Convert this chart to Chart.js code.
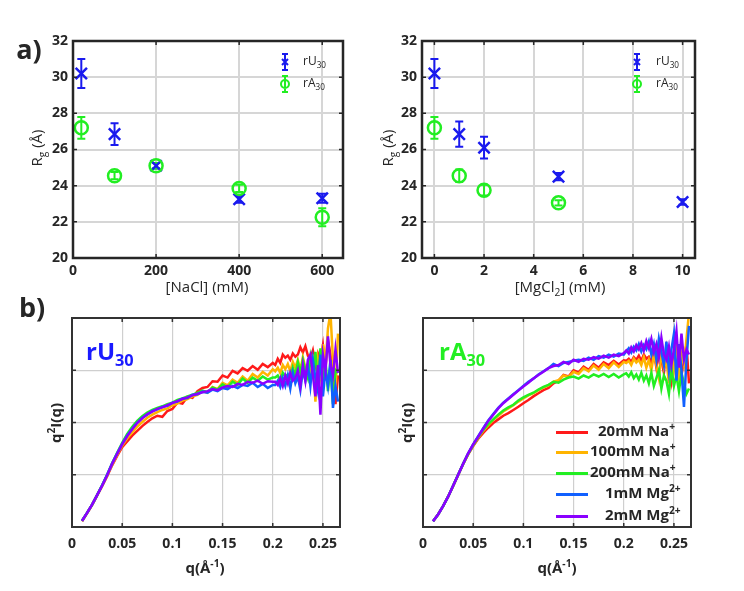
<!DOCTYPE html>
<html>
<head>
<meta charset="utf-8">
<script src="https://cdn.jsdelivr.net/npm/chart.js@4.4.1/dist/chart.umd.min.js"></script>
<style>
body { margin: 0; background: #fff; }
#fig { position: relative; width: 744px; height: 591px; overflow: hidden; font-family: 'Open Sans', sans-serif; color: #262626; }
.panel { position: absolute; }
.t { position: absolute; white-space: nowrap; line-height: 1; transform: translate(-50%, -50%); }
.l { position: absolute; white-space: nowrap; line-height: 1; }
.rot { transform: translate(-50%, -50%) rotate(-90deg); }
sub, sup { font-size: 68%; line-height: 0; }
.key { position: absolute; width: 32px; height: 3px; }
</style>
</head>
<body>
<div id="fig">
  <div class="panel" style="left:0;top:0;width:372px;height:300px"><canvas id="chart1"></canvas></div>
  <div class="panel" style="left:372px;top:0;width:372px;height:300px"><canvas id="chart2"></canvas></div>
  <div class="panel" style="left:0;top:300px;width:372px;height:291px"><canvas id="chart3"></canvas></div>
  <div class="panel" style="left:372px;top:300px;width:372px;height:291px"><canvas id="chart4"></canvas></div>

  <div class="t" style="left:29px;top:48px;font-size:27px;font-weight:bold">a)</div>
  <div class="t" style="left:32px;top:306px;font-size:27px;font-weight:bold">b)</div>

  <div class="t rot" style="left:36px;top:148px;font-size:15px">R<sub>g</sub> (Å)</div>
  <div class="t rot" style="left:387px;top:148px;font-size:15px">R<sub>g</sub> (Å)</div>
  <div class="t" style="left:207px;top:286px;font-size:15px">[NaCl] (mM)</div>
  <div class="t" style="left:560px;top:286px;font-size:15px">[MgCl<sub>2</sub>] (mM)</div>

  <div class="l" style="left:303px;top:55px;font-size:12px">rU<sub>30</sub></div>
  <div class="l" style="left:303px;top:77px;font-size:12px">rA<sub>30</sub></div>
  <div class="l" style="left:656px;top:55px;font-size:12px">rU<sub>30</sub></div>
  <div class="l" style="left:656px;top:77px;font-size:12px">rA<sub>30</sub></div>

  <div class="t rot" style="left:55px;top:423px;font-size:15px;font-weight:bold">q<sup>2</sup>I(q)</div>
  <div class="t rot" style="left:406px;top:423px;font-size:15px;font-weight:bold">q<sup>2</sup>I(q)</div>
  <div class="t" style="left:205px;top:567px;font-size:15px;font-weight:bold">q(Å<sup>-1</sup>)</div>
  <div class="t" style="left:557px;top:567px;font-size:15px;font-weight:bold">q(Å<sup>-1</sup>)</div>

  <div class="l" style="left:86px;top:339px;font-size:24px;font-weight:bold;color:#1a1aff">rU<sub>30</sub></div>
  <div class="l" style="left:439px;top:339px;font-size:24px;font-weight:bold;color:#22ee22">rA<sub>30</sub></div>

  <div id="keys"></div>
</div>
<script>
// a) radius of gyration
const naclConc = [20, 100, 200, 400, 600];
const naclU = [30.2, 26.85, 25.1, 23.25, 23.3];
const naclUErr = [0.8, 0.6, 0.15, 0.2, 0.25];
const naclA = [27.2, 24.55, 25.1, 23.85, 22.25];
const naclAErr = [0.6, 0.2, 0.15, 0.2, 0.5];

const mgConc = [0, 1, 2, 5, 10];
const mgU = [30.2, 26.85, 26.1, 24.5, 23.1];
const mgUErr = [0.8, 0.7, 0.6, 0.2, 0.15];
const mgConcA = [0, 1, 2, 5];
const mgA = [27.2, 24.55, 23.75, 23.05];
const mgAErr = [0.6, 0.35, 0.3, 0.15];

const naclTicks = [0, 200, 400, 600];
const mgTicks = [0, 2, 4, 6, 8, 10];
const rgTicks = [20, 22, 24, 26, 28, 30, 32];

// b) Kratky curves
const qValues = [
  0.010, 0.015, 0.020, 0.025, 0.030, 0.035, 0.040, 0.045, 0.050, 0.055,
  0.060, 0.065, 0.070, 0.075, 0.080, 0.085, 0.090, 0.095, 0.100, 0.105,
  0.110, 0.115, 0.120, 0.125, 0.130, 0.135, 0.140, 0.145, 0.150, 0.155,
  0.160, 0.165, 0.170, 0.175, 0.180, 0.185, 0.190, 0.195, 0.200,
  0.2025, 0.205, 0.2075, 0.210, 0.2125, 0.215, 0.2175, 0.220, 0.2225, 0.225,
  0.2275, 0.230, 0.2325, 0.235, 0.2375, 0.240, 0.2425, 0.245, 0.2475, 0.250,
  0.2525, 0.255, 0.2575, 0.260, 0.2625, 0.265
];
const qTicks = [0, 0.05, 0.1, 0.15, 0.2, 0.25];
const kratkyTicks = [0, 1, 2, 3, 4];
const seriesLabels = ["20mM Na<sup>+</sup>", "100mM Na<sup>+</sup>", "200mM Na<sup>+</sup>", "1mM Mg<sup>2+</sup>", "2mM Mg<sup>2+</sup>"];
const seriesColors = ["#ff1a1a", "#ffb400", "#22ee22", "#1060ff", "#8a00ff"];

const rU_20Na = [0.11,0.26,0.42,0.60,0.78,0.97,1.18,1.36,1.53,1.64, 1.75,1.84,1.93,2.01,2.08,2.13,2.11,2.22,2.26,2.38,
  2.36,2.49,2.47,2.60,2.66,2.68,2.79,2.78,2.90,2.86, 2.99,2.94,3.04,2.99,3.08,3.01,3.12,3.06,3.14,
  3.10,3.22,3.14,3.30,3.24,3.28,3.20,3.32,3.26,3.30, 3.44,3.34,3.46,3.28,3.22,3.38,3.10,3.32,3.18,3.48, 3.02,3.58,3.30,2.90,2.35,2.90];
const rU_100Na = [0.12,0.27,0.43,0.61,0.79,0.98,1.20,1.38,1.56,1.70, 1.81,1.92,2.01,2.09,2.15,2.20,2.24,2.27,2.33,2.36,
  2.42,2.45,2.50,2.53,2.60,2.57,2.68,2.64,2.76,2.71, 2.82,2.76,2.88,2.80,2.93,2.86,2.97,2.90,3.02,
  2.98,3.05,2.95,3.10,3.02,3.12,2.98,3.16,3.05,3.20, 3.00,3.25,3.05,3.10,2.85,3.30,2.40,3.20,2.90,3.50, 3.10,3.80,4.10,3.20,2.60,3.70];
const rU_200Na = [0.12,0.27,0.43,0.61,0.80,1.00,1.22,1.42,1.61,1.78, 1.92,2.03,2.12,2.19,2.24,2.28,2.31,2.35,2.38,2.43,
  2.46,2.50,2.53,2.57,2.61,2.58,2.67,2.63,2.73,2.67, 2.78,2.72,2.84,2.76,2.86,2.80,2.88,2.82,2.86,
  2.86,2.90,2.80,2.95,2.88,2.92,2.85,3.05,2.90,3.15, 2.95,3.20,3.00,2.85,3.25,2.95,3.35,2.70,3.42,2.80, 3.20,2.60,3.10,2.35,3.00,2.95];
const rU_1Mg = [0.12,0.27,0.43,0.61,0.80,1.00,1.22,1.41,1.59,1.75, 1.88,2.00,2.09,2.15,2.22,2.25,2.30,2.32,2.38,2.40,
  2.46,2.47,2.53,2.54,2.59,2.57,2.63,2.60,2.66,2.64, 2.70,2.66,2.72,2.70,2.76,2.68,2.74,2.66,2.72,
  2.72,2.80,2.68,2.85,2.70,2.90,2.65,2.95,2.75,2.88, 2.62,3.00,2.80,3.10,2.70,3.20,2.85,2.60,3.30,2.50, 3.00,2.70,3.20,2.28,2.70,2.40];
const rU_2Mg = [0.12,0.27,0.43,0.61,0.79,0.99,1.21,1.40,1.58,1.74, 1.87,1.99,2.08,2.16,2.21,2.26,2.29,2.33,2.37,2.41,
  2.45,2.48,2.52,2.55,2.58,2.60,2.64,2.62,2.67,2.70, 2.68,2.74,2.72,2.78,2.76,2.80,2.74,2.79,2.78,
  2.78,2.72,2.85,2.70,2.90,2.75,2.95,2.80,2.85,3.00, 2.70,3.10,2.80,3.20,3.30,2.90,2.50,3.10,2.15,3.30, 3.00,3.65,3.10,2.90,3.40,2.95];

const rA_20Na = [0.11,0.24,0.40,0.58,0.78,0.99,1.20,1.39,1.55,1.69, 1.80,1.90,1.99,2.06,2.13,2.18,2.24,2.30,2.37,2.43,
  2.50,2.56,2.62,2.66,2.75,2.80,2.91,2.88,3.00,2.96, 3.07,3.01,3.12,3.05,3.15,3.10,3.18,3.11,3.19,
  3.18,3.22,3.16,3.25,3.20,3.28,3.18,3.30,3.22,3.26, 3.15,3.35,3.05,3.30,3.20,2.95,3.40,3.10,2.80,3.30, 3.00,3.45,2.90,3.20,3.50,2.75];
const rA_100Na = [0.11,0.24,0.40,0.58,0.79,1.00,1.21,1.40,1.56,1.71, 1.84,1.95,2.05,2.13,2.21,2.27,2.33,2.40,2.46,2.52,
  2.56,2.62,2.67,2.71,2.78,2.81,2.90,2.87,2.97,2.93, 3.04,2.98,3.09,3.01,3.12,3.04,3.15,3.06,3.16,
  3.14,3.18,3.10,3.22,3.15,3.20,3.10,3.25,3.05,3.20, 3.00,3.30,3.10,2.85,3.35,3.05,3.20,2.75,3.30,3.00, 3.40,2.90,3.30,3.10,3.60,4.10];
const rA_200Na = [0.11,0.24,0.40,0.58,0.79,1.00,1.21,1.40,1.57,1.72, 1.86,1.97,2.06,2.15,2.23,2.29,2.34,2.42,2.48,2.53,
  2.57,2.63,2.68,2.72,2.78,2.76,2.82,2.86,2.88,2.84, 2.90,2.86,2.92,2.88,2.93,2.87,2.93,2.86,2.92,
  2.94,2.88,2.96,2.85,2.92,2.82,2.95,2.80,2.90,2.75, 2.95,2.70,2.85,3.00,2.65,2.90,2.80,2.55,3.05,2.70, 2.90,2.60,2.95,2.75,2.55,2.65];
const rA_1Mg = [0.11,0.24,0.40,0.58,0.79,1.00,1.21,1.41,1.58,1.74, 1.89,2.04,2.16,2.28,2.38,2.46,2.54,2.62,2.70,2.78,
  2.84,2.92,2.98,3.04,3.12,3.08,3.14,3.16,3.18,3.20, 3.18,3.24,3.20,3.27,3.24,3.30,3.26,3.32,3.30,
  3.36,3.42,3.34,3.45,3.38,3.50,3.36,3.48,3.40,3.55, 3.30,3.50,3.20,3.60,3.35,3.10,3.55,3.00,3.40,3.70, 2.80,3.50,3.00,2.30,3.20,3.85];
const rA_2Mg = [0.11,0.24,0.40,0.58,0.79,1.00,1.21,1.41,1.58,1.73, 1.88,2.03,2.15,2.27,2.37,2.45,2.53,2.61,2.69,2.76,
  2.84,2.91,2.97,3.04,3.08,3.10,3.16,3.12,3.20,3.16, 3.22,3.20,3.25,3.22,3.28,3.24,3.30,3.27,3.33,
  3.38,3.32,3.44,3.36,3.48,3.40,3.52,3.38,3.56,3.42, 3.60,3.35,3.50,3.25,3.62,3.30,3.20,3.45,3.10,3.40, 3.75,3.05,3.70,3.20,3.40,3.30];

const blue = "#1a1aee";
const green = "#22ee22";
const ink = "#262626";

Chart.defaults.font.family = "'Open Sans', sans-serif";
Chart.defaults.font.size = 14;
Chart.defaults.font.weight = "bold";
Chart.defaults.color = ink;

// box with inward ticks, error bars and the small legend icons of panel a
const framePlugin = {
  id: "frame",
  beforeDatasetsDraw(chart) {
    const { ctx, scales: { x, y } } = chart;
    ctx.save();
    chart.data.datasets.forEach((ds) => {
      if (!ds.errors) return;
      ctx.strokeStyle = ds.borderColor;
      ctx.lineWidth = 2;
      ctx.beginPath();
      ds.data.forEach((p, j) => {
        const px = x.getPixelForValue(p.x);
        const y1 = y.getPixelForValue(p.y - ds.errors[j]);
        const y2 = y.getPixelForValue(p.y + ds.errors[j]);
        ctx.moveTo(px, y1); ctx.lineTo(px, y2);
        ctx.moveTo(px - 4, y1); ctx.lineTo(px + 4, y1);
        ctx.moveTo(px - 4, y2); ctx.lineTo(px + 4, y2);
      });
      ctx.stroke();
    });
    ctx.restore();
  },
  afterDatasetsDraw(chart, args, opts) {
    const { ctx, chartArea: a, scales: { x, y } } = chart;
    ctx.save();
    ctx.strokeStyle = opts.color;
    ctx.lineWidth = opts.width;
    ctx.strokeRect(a.left, a.top, a.right - a.left, a.bottom - a.top);
    ctx.lineWidth = 1.5;
    ctx.beginPath();
    x.ticks.forEach((t) => {
      const p = x.getPixelForValue(t.value);
      ctx.moveTo(p, a.bottom); ctx.lineTo(p, a.bottom - 4);
      ctx.moveTo(p, a.top); ctx.lineTo(p, a.top + 4);
    });
    y.ticks.forEach((t) => {
      const p = y.getPixelForValue(t.value);
      ctx.moveTo(a.left, p); ctx.lineTo(a.left + 4, p);
      ctx.moveTo(a.right, p); ctx.lineTo(a.right - 4, p);
    });
    ctx.stroke();
    (opts.icons || []).forEach((ic) => {
      const cx = a.right - ic.dx, cy = a.top + ic.dy;
      ctx.strokeStyle = ic.color;
      ctx.lineWidth = 2;
      ctx.beginPath();
      ctx.moveTo(cx, cy - 8); ctx.lineTo(cx, cy + 8);
      ctx.moveTo(cx - 3, cy - 8); ctx.lineTo(cx + 3, cy - 8);
      ctx.moveTo(cx - 3, cy + 8); ctx.lineTo(cx + 3, cy + 8);
      if (ic.style === "cross") {
        ctx.moveTo(cx - 3, cy - 3); ctx.lineTo(cx + 3, cy + 3);
        ctx.moveTo(cx - 3, cy + 3); ctx.lineTo(cx + 3, cy - 3);
      } else {
        ctx.moveTo(cx + 4, cy); ctx.arc(cx, cy, 4, 0, Math.PI * 2);
      }
      ctx.stroke();
    });
    ctx.restore();
  },
};

function axis(min, max, tickValues, size, pad, grid, showLabels) {
  return {
    type: "linear",
    min: min,
    max: max,
    afterBuildTicks: (s) => { s.ticks = tickValues.map((v) => ({ value: v })); },
    grid: { color: grid.color, lineWidth: grid.width, drawTicks: false },
    border: { display: false },
    ticks: { display: showLabels, padding: pad, autoSkip: false, maxRotation: 0, callback: (v) => String(v) },
    afterFit: size,
  };
}

function rgChart(id, xs, xsA, u, uErr, aVals, aErr, xMin, xMax, xTicks, geom) {
  const topGrid = { color: "#d6d6d6", width: 2 };
  return new Chart(document.getElementById(id), {
    type: "scatter",
    data: {
      datasets: [
        {
          label: "rU30",
          data: xs.map((c, i) => ({ x: c, y: u[i] })),
          errors: uErr,
          pointStyle: "crossRot",
          pointRadius: 8,
          borderColor: blue,
          backgroundColor: blue,
          borderWidth: 2.5,
          order: 1,
        },
        {
          label: "rA30",
          data: xsA.map((c, i) => ({ x: c, y: aVals[i] })),
          errors: aErr,
          pointStyle: "circle",
          pointRadius: 6.5,
          borderColor: green,
          backgroundColor: "rgba(0,0,0,0)",
          borderWidth: 2.5,
          order: 0,
        },
      ],
    },
    plugins: [framePlugin],
    options: {
      animation: false,
      responsive: true,
      maintainAspectRatio: false,
      layout: { padding: { top: 41, right: geom.right, left: 0, bottom: 0 } },
      plugins: {
        legend: { display: false },
        tooltip: { enabled: false },
        frame: {
          color: ink,
          width: 2.5,
          icons: [
            { dx: 58, dy: 21, color: blue, style: "cross" },
            { dx: 58, dy: 43, color: green, style: "circle" },
          ],
        },
      },
      scales: {
        x: axis(xMin, xMax, xTicks, (s) => { s.height = 42; }, 5, topGrid, true),
        y: axis(20, 32, rgTicks, (s) => { s.width = geom.left; }, 5, topGrid, true),
      },
    },
  });
}

function kratkyChart(id, sets, geom) {
  const grid = { color: "#cfcfcf", width: 1.2 };
  return new Chart(document.getElementById(id), {
    type: "scatter",
    data: {
      datasets: sets.map((ys, i) => ({
        data: qValues.map((q, j) => ({ x: q, y: ys[j] })),
        showLine: true,
        borderColor: seriesColors[i],
        borderWidth: 2.5,
        pointRadius: 0,
        order: sets.length - 1 - i,
      })),
    },
    plugins: [framePlugin],
    options: {
      animation: false,
      responsive: true,
      maintainAspectRatio: false,
      layout: { padding: { top: 18, right: geom.right, left: 0, bottom: 0 } },
      plugins: {
        legend: { display: false },
        tooltip: { enabled: false },
        frame: { color: "#333333", width: 2 },
      },
      scales: {
        x: axis(0, 0.267, qTicks, (s) => { s.height = 64; }, 9, grid, true),
        y: axis(0, 4, kratkyTicks, (s) => { s.width = geom.left; }, 5, grid, false),
      },
    },
  });
}

rgChart("chart1", naclConc, naclConc, naclU, naclUErr, naclA, naclAErr, 0, 650, naclTicks, { left: 73, right: 29 });
rgChart("chart2", mgConc, mgConcA, mgU, mgUErr, mgA, mgAErr, -0.5, 10.5, mgTicks, { left: 50, right: 49 });
kratkyChart("chart3", [rU_20Na, rU_100Na, rU_200Na, rU_1Mg, rU_2Mg], { left: 72, right: 32 });
kratkyChart("chart4", [rA_20Na, rA_100Na, rA_200Na, rA_1Mg, rA_2Mg], { left: 51, right: 53 });

// legend of panel b (right)
const keyRows = [432, 452, 473, 494, 516];
const keyLeft = [598, 590, 590, 605, 605];
const keys = document.getElementById("keys");
seriesLabels.forEach((lab, i) => {
  const bar = document.createElement("div");
  bar.className = "key";
  bar.style.left = "556px";
  bar.style.top = (keyRows[i] - 1.5) + "px";
  bar.style.background = seriesColors[i];
  keys.appendChild(bar);
  const txt = document.createElement("div");
  txt.className = "l";
  txt.style.left = keyLeft[i] + "px";
  txt.style.top = (keyRows[i] - 9) + "px";
  txt.style.fontSize = "15px";
  txt.style.fontWeight = "bold";
  txt.innerHTML = lab;
  keys.appendChild(txt);
});
</script>
</body>
</html>
